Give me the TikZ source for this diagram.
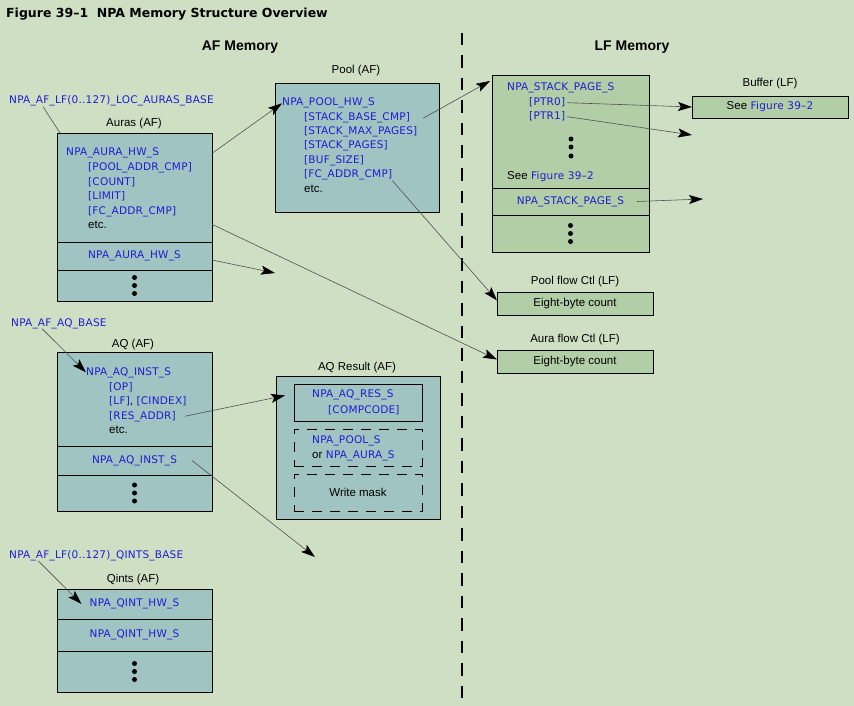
\documentclass[tikz,border=0pt]{standalone}
\usepackage{fontspec}
\setmainfont{Liberation Sans}
\newfontfamily\regfont[LetterSpace=2]{DejaVu Sans}
\newfontfamily\headfont{DejaVu Sans}
\usetikzlibrary{arrows.meta,positioning}

\definecolor{pagebg}{RGB}{207,223,196}
\definecolor{afteal}{RGB}{160,196,194}
\definecolor{lfgreen}{RGB}{178,206,166}
\definecolor{regblue}{RGB}{30,30,210}
\definecolor{linkgray}{RGB}{80,80,80}

% black words inside blue register text
\newcommand{\plaintxt}[1]{{\color{black}\normalfont\fontsize{11.5}{14}\selectfont #1}}

\begin{document}
\begin{tikzpicture}[x=1pt,y=-1pt,
    afbox/.style={draw,fill=afteal,line width=0.8pt,inner sep=0pt,outer sep=0pt,
                  minimum width=155pt,anchor=north west},
    lfbox/.style={draw,fill=lfgreen,line width=0.8pt,inner sep=0pt,outer sep=0pt,
                  minimum width=156pt,anchor=north west},
    resbox/.style={draw,line width=0.8pt,inner sep=0pt,outer sep=0pt,
                   minimum width=128pt,minimum height=37pt,anchor=north west},
    regtext/.style={font=\regfont\fontsize{10.5}{12}\selectfont,text=regblue},
    reg/.style={regtext,inner sep=0pt,anchor=base west},
    blackfont/.style={font=\fontsize{11.5}{14}\selectfont},
    lbl/.style={blackfont,inner sep=0pt,anchor=base},
    link/.style={draw=linkgray,line width=0.6pt,
                 -{Stealth[length=14pt,width=9pt,inset=3pt,black]}},
    tie/.style={draw=linkgray,line width=0.6pt}]

  \fill[pagebg] (0,0) rectangle (854,706);
  \useasboundingbox (0,0) rectangle (854,706);

  % headings
  \node[inner sep=0pt,anchor=base west,font=\headfont\bfseries\fontsize{12.5}{14}\selectfont]
       (title) at (6,18) {Figure 39–1\ \ NPA Memory Structure Overview};
  \node[inner sep=0pt,anchor=base,font=\bfseries\fontsize{14}{16}\selectfont]
       (afmem) at (240,51) {AF Memory};
  \node[inner sep=0pt,anchor=base,font=\bfseries\fontsize{14}{16}\selectfont]
       (lfmem) at (632,51) {LF Memory};
  \draw[line width=2pt,dash pattern=on 12.5pt off 10pt] (462,33) -- (462,700);

  % auras
  \node[reg] (aurabase) at (9,104) {NPA\_AF\_LF(0..127)\_LOC\_AURAS\_BASE};
  \node[lbl] (auralbl) at (134,127) {Auras (AF)};
  \node[afbox,minimum height=109pt] (auras) at (57,133) {};
  \node[afbox,regtext,minimum height=28pt,below=0pt of auras] (aurarow) {NPA\_AURA\_HW\_S};
  \node[afbox,minimum height=31pt,below=0pt of aurarow] (auradots) {};
  \node[reg] (aurahw)  at (66,156) {NPA\_AURA\_HW\_S};
  \node[reg] (aurapa)  at (88,170) {[POOL\_ADDR\_CMP]};
  \node[reg] (auracnt) at (88,185) {[COUNT]};
  \node[reg] (auralim) at (88,199) {[LIMIT]};
  \node[reg] (aurafc)  at (88,214) {[FC\_ADDR\_CMP]};
  \node[lbl,anchor=base west] (auraetc) at (88,228) {etc.};
  \foreach \d in {-8,0,8}
    \fill ([yshift=\d pt]auradots.center) circle (2.5pt);

  % pool
  \node[lbl] (poollbl) at (356,74) {Pool (AF)};
  \node[afbox,minimum width=164pt,minimum height=129pt] (pool) at (275,83) {};
  \node[reg] (poolhw)   at (282,106) {NPA\_POOL\_HW\_S};
  \node[reg] (poolbase) at (304,121) {[STACK\_BASE\_CMP]};
  \node[reg] (poolmax)  at (304,135) {[STACK\_MAX\_PAGES]};
  \node[reg] (poolpg)   at (304,149) {[STACK\_PAGES]};
  \node[reg] (poolbuf)  at (304,164) {[BUF\_SIZE]};
  \node[reg] (poolfc)   at (304,178) {[FC\_ADDR\_CMP]};
  \node[lbl,anchor=base west] (pooletc) at (304,193) {etc.};

  % stack pages
  \node[lfbox,minimum width=157pt,minimum height=113pt] (stack) at (492,75) {};
  \node[lfbox,regtext,minimum width=157pt,minimum height=27pt,below=0pt of stack] (stackrow) {NPA\_STACK\_PAGE\_S};
  \node[lfbox,minimum width=157pt,minimum height=37pt,below=0pt of stackrow] (stackdots) {};
  \node[reg] (stackhw) at (507,91)  {NPA\_STACK\_PAGE\_S};
  \node[reg] (ptr0)    at (529,106) {[PTR0]};
  \node[reg] (ptr1)    at (529,120) {[PTR1]};
  \node[reg] (stacksee) at (507,179) {\plaintxt{See} Figure 39–2};
  \foreach \y in {139,147,156}
    \fill (571,\y) circle (2.5pt);
  \foreach \d in {-8,0,8}
    \fill ([yshift=\d pt]stackdots.center) circle (2.5pt);

  % buffer and flow control
  \node[lbl] (buflbl) at (770,87) {Buffer (LF)};
  \node[lfbox,regtext,minimum height=22pt] (buffer) at (692,96) {\plaintxt{See} Figure 39–2};
  \node[lbl] (poolflowlbl) at (575,284) {Pool flow Ctl (LF)};
  \node[lfbox,blackfont,minimum height=23pt] (poolflow) at (497,292) {Eight-byte count};
  \node[lbl] (auraflowlbl) at (575,342) {Aura flow Ctl (LF)};
  \node[lfbox,blackfont,minimum height=23pt] (auraflow) at (497,350) {Eight-byte count};

  % admin queue
  \node[reg] (aqbase) at (11,326) {NPA\_AF\_AQ\_BASE};
  \node[lbl] (aqlbl) at (133,347) {AQ (AF)};
  \node[afbox,minimum height=94pt] (aq) at (57,352) {};
  \node[afbox,regtext,minimum height=29pt,below=0pt of aq] (aqrow) {NPA\_AQ\_INST\_S};
  \node[afbox,minimum height=36pt,below=0pt of aqrow] (aqdots) {};
  \node[reg] (aqhw)    at (86,375)  {NPA\_AQ\_INST\_S};
  \node[reg] (aqop)    at (109,390) {[OP]};
  \node[reg] (aqlf)    at (109,404) {[LF]\plaintxt{,} [CINDEX]};
  \node[reg] (resaddr) at (109,419) {[RES\_ADDR]};
  \node[lbl,anchor=base west] (aqetc) at (109,433) {etc.};
  \foreach \d in {-8,0,8}
    \fill ([yshift=\d pt]aqdots.center) circle (2.5pt);

  % aq result
  \node[lbl] (reslbl) at (357,370) {AQ Result (AF)};
  \node[afbox,minimum width=164pt,minimum height=143pt] (result) at (276,376) {};
  \node[resbox] (aqres) at (294,384) {};
  \node[resbox,dash pattern=on 10pt off 8pt] (resctx) at (294,429) {};
  \node[resbox,blackfont,dash pattern=on 10pt off 8pt] (resmask) at (294,474) {Write mask};
  \node[reg] (aqresname) at (312,397) {NPA\_AQ\_RES\_S};
  \node[reg] (compcode)  at (328,413) {[COMPCODE]};
  \node[reg] (ctxpool)   at (312,443) {NPA\_POOL\_S};
  \node[reg] (ctxaura)   at (312,458) {\plaintxt{or} NPA\_AURA\_S};

  % qints
  \node[reg] (qintbase) at (9,558) {NPA\_AF\_LF(0..127)\_QINTS\_BASE};
  \node[lbl] (qintlbl) at (133,582) {Qints (AF)};
  \node[afbox,regtext,minimum height=30pt] (qint1) at (57,589) {NPA\_QINT\_HW\_S};
  \node[afbox,regtext,minimum height=32pt,below=0pt of qint1] (qint2) {NPA\_QINT\_HW\_S};
  \node[afbox,minimum height=41pt,below=0pt of qint2] (qintdots) {};
  \foreach \d in {-8,0,8}
    \fill ([yshift=\d pt]qintdots.center) circle (2.5pt);

  % loose ends
  \coordinate (aurafree)  at (275,273);
  \coordinate (ptr1free)  at (692,135);
  \coordinate (stackfree) at (703,199);
  \coordinate (aqfree)    at (315,557);

  % pointers
  \path ([xshift=34pt]aurabase.south west) edge[tie]  ([xshift=3pt]auras.north west)
        (auras.east |- aurahw)             edge[link] (poolhw.west)
        (auras.east |- auraetc)            edge[link] ([yshift=2pt]auraflow.west)
        ([yshift=-4pt]aurarow.east)        edge[link] (aurafree)
        ([xshift=13pt]poolbase.east)       edge[link] ([shift={(-2pt,-6pt)}]stack.north west)
        (poolfc.south east)                edge[link] ([yshift=3pt]poolflow.west)
        ([xshift=2pt]ptr0.east)            edge[link] (buffer.west)
        ([xshift=2pt]ptr1.east)            edge[link] (ptr1free)
        ([xshift=-12pt]stackrow.east)      edge[link] (stackfree)
        ([xshift=31pt]aqbase.south west)   edge[link] (aqhw.west)
        ([xshift=9pt]resaddr.east)         edge[link] ([shift={(-9pt,7pt)}]aqres.west)
        ([xshift=-20pt]aqrow.east)         edge[link] (aqfree)
        ([xshift=29pt]qintbase.south west) edge[link] ([xshift=-53pt]qint1.center);
\end{tikzpicture}
\end{document}
